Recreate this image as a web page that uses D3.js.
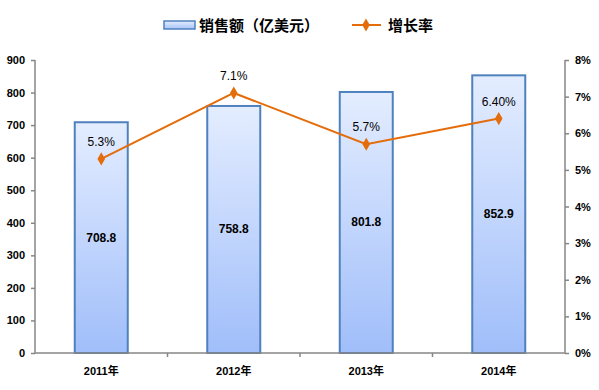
<!DOCTYPE html>
<html>
<head>
<meta charset="utf-8">
<script src="https://d3js.org/d3.v7.min.js"></script>
<style>
  body { margin: 0; background: #fff; }
  text { font-family: Arial, "Liberation Sans", "Noto Sans CJK SC", sans-serif; }
</style>
</head>
<body>
<div id="chart"></div>
<script>
// Chart data
const years = ['2011年', '2012年', '2013年', '2014年'];
const sales = [708.8, 758.8, 801.8, 852.9];
const growth = [5.3, 7.1, 5.7, 6.4];
const growthLabels = ['5.3%', '7.1%', '5.7%', '6.40%'];
const salesTicks = [0, 100, 200, 300, 400, 500, 600, 700, 800, 900];
const growthTicks = [0, 1, 2, 3, 4, 5, 6, 7, 8];

const W = 599, H = 390;
const margin = { top: 60, right: 34, bottom: 37, left: 35 };

const svg = d3.select('#chart').append('svg')
  .attr('width', W)
  .attr('height', H);

// Gradient for the bars
const defs = svg.append('defs');
const grad = defs.append('linearGradient')
  .attr('id', 'barFill')
  .attr('x1', 0).attr('y1', 0).attr('x2', 0).attr('y2', 1);
grad.append('stop').attr('offset', '0%').attr('stop-color', '#e4edff');
grad.append('stop').attr('offset', '100%').attr('stop-color', '#a0befa');

const legGrad = defs.append('linearGradient')
  .attr('id', 'legFill')
  .attr('x1', 0).attr('y1', 0).attr('x2', 0).attr('y2', 1);
legGrad.append('stop').attr('offset', '0%').attr('stop-color', '#e4edff');
legGrad.append('stop').attr('offset', '100%').attr('stop-color', '#a8c4f8');

const x = d3.scaleBand()
  .domain(years)
  .range([margin.left, W - margin.right])
  .paddingInner(0.6)
  .paddingOuter(0.3);

const xOuter = d3.scaleBand()
  .domain(years)
  .range([margin.left, W - margin.right]);

const yL = d3.scaleLinear().domain([0, 900]).range([H - margin.bottom, margin.top]);
const yR = d3.scaleLinear().domain([0, 8]).range([H - margin.bottom, margin.top]);

const axisColor = '#868686';

// Bars
svg.append('g').selectAll('rect')
  .data(sales)
  .join('rect')
    .attr('x', (d, i) => xOuter(years[i]) + xOuter.bandwidth() * 0.3)
    .attr('y', d => yL(d))
    .attr('width', xOuter.bandwidth() * 0.4)
    .attr('height', d => yL(0) - yL(d))
    .attr('fill', 'url(#barFill)')
    .attr('stroke', '#4f81bd')
    .attr('stroke-width', 2);

// Bar value labels
svg.append('g').selectAll('text')
  .data(sales)
  .join('text')
    .attr('x', (d, i) => xOuter(years[i]) + xOuter.bandwidth() / 2)
    .attr('y', d => (yL(d) + yL(0)) / 2 + 4)
    .attr('text-anchor', 'middle')
    .style('font-size', '12px')
    .style('font-weight', 'bold')
    .attr('fill', '#000')
    .text(d => d.toFixed(1));

// Left axis
const leftAxis = svg.append('g')
  .attr('transform', `translate(${margin.left},0)`)
  .call(d3.axisLeft(yL).tickValues(salesTicks).tickSize(4).tickPadding(6));

// Right axis
const rightAxis = svg.append('g')
  .attr('transform', `translate(${W - margin.right},0)`)
  .call(d3.axisRight(yR).tickValues(growthTicks).tickSize(4).tickPadding(6)
    .tickFormat(d => d + '%'));

// Bottom axis
const bottomAxis = svg.append('g')
  .attr('transform', `translate(0,${H - margin.bottom})`)
  .call(d3.axisBottom(xOuter).tickSize(0).tickPadding(14));

// Category separators on the x axis
svg.append('g').selectAll('line')
  .data(years.slice(1))
  .join('line')
    .attr('x1', d => xOuter(d))
    .attr('x2', d => xOuter(d))
    .attr('y1', H - margin.bottom)
    .attr('y2', H - margin.bottom + 4)
    .attr('stroke', axisColor)
    .attr('stroke-width', 1.5);

[leftAxis, rightAxis, bottomAxis].forEach(a => {
  a.selectAll('path, line').attr('stroke', axisColor).attr('stroke-width', 1.5);
  a.selectAll('text')
    .attr('fill', '#000')
    .style('font-size', '11px')
    .style('font-weight', 'bold');
});
bottomAxis.select('.domain').attr('d', `M${margin.left},0H${W - margin.right}`);
leftAxis.select('.domain').attr('d', `M0,${margin.top}V${H - margin.bottom}`);
rightAxis.select('.domain').attr('d', `M0,${margin.top}V${H - margin.bottom}`);

// Growth line
const orange = '#e46c0a';
const line = d3.line()
  .x((d, i) => xOuter(years[i]) + xOuter.bandwidth() / 2)
  .y(d => yR(d));

svg.append('path')
  .datum(growth)
  .attr('d', line)
  .attr('fill', 'none')
  .attr('stroke', orange)
  .attr('stroke-width', 2);

const diamond = d3.symbol().type(d3.symbolDiamond).size(50);
svg.append('g').selectAll('path')
  .data(growth)
  .join('path')
    .attr('d', diamond)
    .attr('transform', (d, i) =>
      `translate(${xOuter(years[i]) + xOuter.bandwidth() / 2},${yR(d)})`)
    .attr('fill', orange);

// Growth labels
svg.append('g').selectAll('text')
  .data(growth)
  .join('text')
    .attr('x', (d, i) => xOuter(years[i]) + xOuter.bandwidth() / 2)
    .attr('y', d => yR(d) - 13)
    .attr('text-anchor', 'middle')
    .style('font-size', '12px')
    .attr('fill', '#000')
    .text((d, i) => growthLabels[i]);

// Legend
const legend = svg.append('g');
legend.append('rect')
  .attr('x', 164).attr('y', 21)
  .attr('width', 31).attr('height', 8)
  .attr('fill', 'url(#legFill)')
  .attr('stroke', '#4f81bd')
  .attr('stroke-width', 1.5);
legend.append('text')
  .attr('x', 199).attr('y', 31)
  .style('font-size', '15px')
  .style('font-weight', 'bold')
  .text('销售额（亿美元）');
legend.append('line')
  .attr('x1', 352).attr('x2', 381)
  .attr('y1', 25).attr('y2', 25)
  .attr('stroke', orange)
  .attr('stroke-width', 2);
legend.append('path')
  .attr('d', diamond)
  .attr('transform', 'translate(366,25)')
  .attr('fill', orange);
legend.append('text')
  .attr('x', 388).attr('y', 31)
  .style('font-size', '15px')
  .style('font-weight', 'bold')
  .text('增长率');
</script>
</body>
</html>
